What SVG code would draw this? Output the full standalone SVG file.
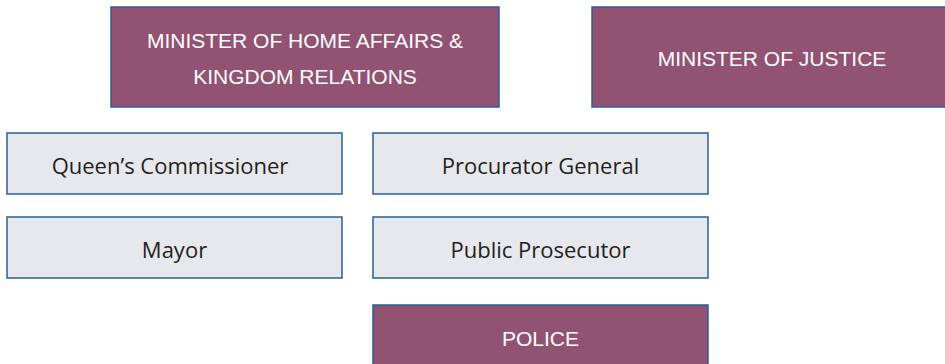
<svg xmlns="http://www.w3.org/2000/svg" width="945" height="364" viewBox="0 0 945 364">
<style>
.p{fill:#925373;stroke:#2a5f94;stroke-width:1.5}
.g{fill:#e7e8ee;stroke:#2a5f94;stroke-width:1.5}
.pt{fill:#ffffff;font-family:"Liberation Sans",Arial,sans-serif;font-size:21px;text-anchor:middle}
.gt{fill:#231f20;font-family:"Open Sans","Noto Sans",sans-serif;font-size:22px;text-anchor:middle}
</style>
<rect width="945" height="364" fill="#ffffff"/>
<g id="home-affairs"><rect class="p" x="111" y="7" width="388" height="100"/><text class="pt" x="305" y="48">MINISTER OF HOME AFFAIRS &amp;</text><text class="pt" x="305" y="84">KINGDOM RELATIONS</text></g>
<g id="justice"><rect class="p" x="592" y="7" width="360" height="100"/><text class="pt" x="772" y="66">MINISTER OF JUSTICE</text></g>
<g id="queens-commissioner"><rect class="g" x="7" y="133" width="335" height="61"/><text class="gt" x="170" y="174">Queen’s Commissioner</text></g>
<g id="procurator-general"><rect class="g" x="373" y="133" width="335" height="61"/><text class="gt" x="540.5" y="174">Procurator General</text></g>
<g id="mayor"><rect class="g" x="7" y="217" width="335" height="61"/><text class="gt" x="174.5" y="258">Mayor</text></g>
<g id="public-prosecutor"><rect class="g" x="373" y="217" width="335" height="61"/><text class="gt" x="540.5" y="258">Public Prosecutor</text></g>
<g id="police"><rect class="p" x="373" y="305" width="335" height="70"/><text class="pt" x="540.5" y="346">POLICE</text></g>
<g id="connectors"></g>
</svg>
